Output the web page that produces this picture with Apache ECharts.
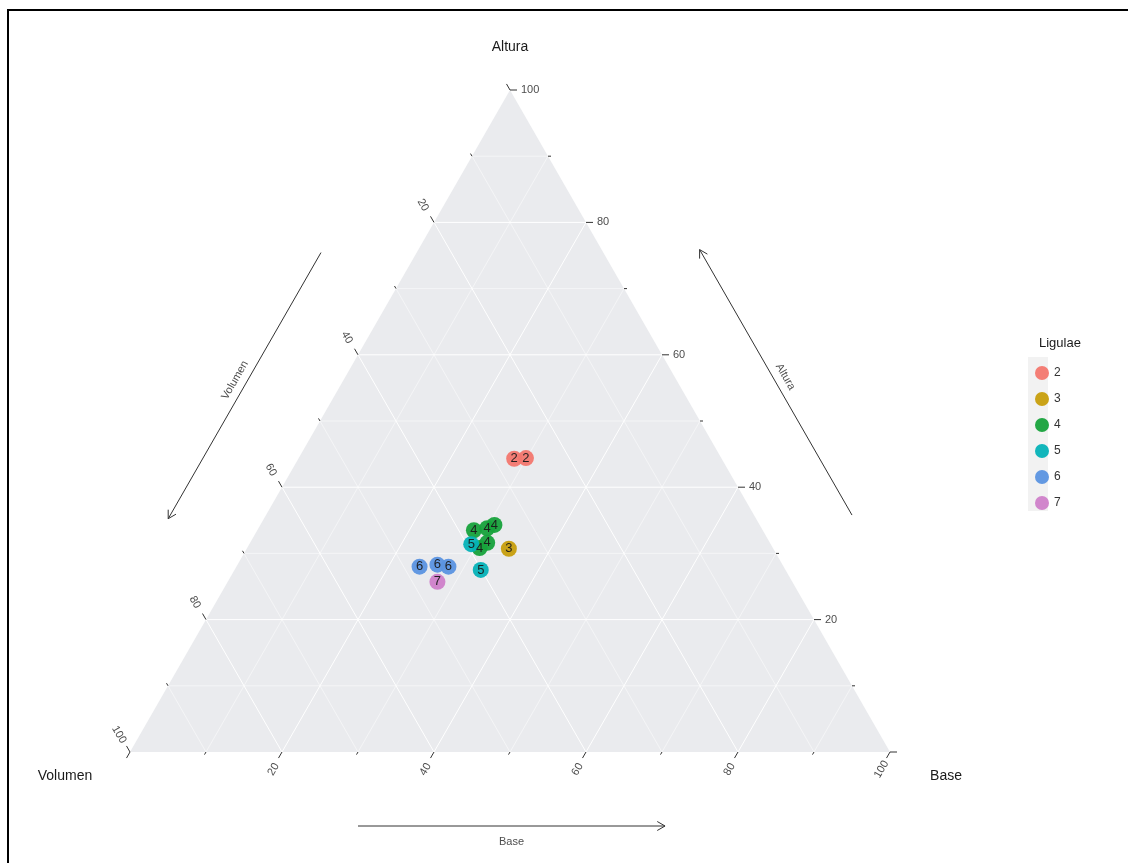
<!DOCTYPE html>
<html>
<head>
<meta charset="utf-8">
<script src="https://cdn.jsdelivr.net/npm/echarts@6/dist/echarts.min.js"></script>
<style>
html,body{margin:0;padding:0;background:#fff;}
#main{width:1128px;height:863px;}
</style>
</head>
<body>
<div id="main"></div>
<script>
// ---- data ----
const ligulae = [2, 2, 3, 4, 4, 4, 4, 4, 5, 5, 6, 6, 6, 7];
const altura  = [44.3, 44.4, 30.7, 33.5, 33.8, 34.3, 31.6, 30.8, 31.4, 27.5, 28.0, 28.3, 28.0, 25.7];
const base    = [28.4, 29.9, 34.5, 28.5, 30.1, 30.8, 31.2, 30.6, 29.2, 32.4, 24.1, 26.3, 27.9, 27.6];
const volumen = [27.3, 25.7, 34.8, 38.0, 36.1, 34.9, 37.2, 38.6, 39.4, 40.1, 47.9, 45.4, 44.1, 46.7];
const classes = [2, 3, 4, 5, 6, 7];
const classColors = ['#F3776E', '#C79E0C', '#17A23B', '#05B2B7', '#5B93E0', '#CF80C9'];
const tickSteps = [0, 10, 20, 30, 40, 50, 60, 70, 80, 90, 100];
const gridSteps = [10, 20, 30, 40, 50, 60, 70, 80, 90];
const tickLabels = [20, 40, 60, 80, 100];
const axisNames = { top: 'Altura', left: 'Volumen', right: 'Base' };
const legendTitle = 'Ligulae';

// ternary -> cartesian (x in 0..100, y = Altura 0..100)
function tern(a, b, v) {
  const s = a + b + v;
  const A = a / s * 100, B = b / s * 100;
  return [B + A / 2, A];
}

const FONT = '"Liberation Sans", Arial, sans-serif';

function renderFrame(params, api) {
  const P = (a, b) => api.coord([b + a / 2, a]);
  const ch = [];
  const T = P(100, 0), L = P(0, 0), R = P(0, 100);
  ch.push({ type: 'polygon', shape: { points: [T, L, R] }, style: { fill: '#EAEBEE' } });
  // grid lines
  gridSteps.forEach(t => {
    const major = t % 20 === 0;
    const st = { stroke: '#FFFFFF', lineWidth: major ? 1 : 0.5 };
    let p1 = P(t, 0), p2 = P(t, 100 - t);
    ch.push({ type: 'line', shape: { x1: p1[0], y1: p1[1], x2: p2[0], y2: p2[1] }, style: st });
    p1 = P(0, t); p2 = P(100 - t, t);
    ch.push({ type: 'line', shape: { x1: p1[0], y1: p1[1], x2: p2[0], y2: p2[1] }, style: st });
    p1 = P(0, 100 - t); p2 = P(100 - t, 0);
    ch.push({ type: 'line', shape: { x1: p1[0], y1: p1[1], x2: p2[0], y2: p2[1] }, style: st });
  });
  // ticks
  const s3 = Math.sqrt(3) / 2;
  const dirA = [1, 0], dirB = [-0.5, s3], dirV = [-0.5, -s3];
  tickSteps.forEach(t => {
    const len = t % 20 === 0 ? 7 : 3;
    const items = [[P(t, 100 - t), dirA], [P(0, t), dirB], [P(100 - t, 0), dirV]];
    items.forEach(([p, d]) => {
      ch.push({ type: 'line', shape: { x1: p[0], y1: p[1], x2: p[0] + d[0] * len, y2: p[1] + d[1] * len },
        style: { stroke: '#333333', lineWidth: 1 } });
    });
  });
  // tick labels
  tickLabels.forEach(t => {
    const lab = String(t);
    let p = P(t, 100 - t);
    ch.push({ type: 'text', x: p[0] + 11, y: p[1], style: { text: lab, fill: '#4D4D4D', font: '11px ' + FONT, align: 'left', verticalAlign: 'middle' } });
    p = P(0, t);
    ch.push({ type: 'text', x: p[0] + dirB[0] * 17, y: p[1] + dirB[1] * 20, rotation: Math.PI / 3,
      style: { text: lab, fill: '#4D4D4D', font: '11px ' + FONT, align: 'center', verticalAlign: 'middle' } });
    p = P(100 - t, 0);
    ch.push({ type: 'text', x: p[0] + dirV[0] * 22, y: p[1] + dirV[1] * 20, rotation: -Math.PI / 3,
      style: { text: lab, fill: '#4D4D4D', font: '11px ' + FONT, align: 'center', verticalAlign: 'middle' } });
  });
  // vertex labels
  const vt = (p, dx, dy, txt) => ch.push({ type: 'text', x: p[0] + dx, y: p[1] + dy,
    style: { text: txt, fill: '#1A1A1A', font: '14px ' + FONT, align: 'center', verticalAlign: 'middle' } });
  vt(T, 0, -43, axisNames.top);
  vt(L, -65, 24, axisNames.left);
  vt(R, 56, 24, axisNames.right);
  // arrows parallel to edges
  function arrow(A0, B0, off, f0, f1, txt, rot, toff) {
    const dx = B0[0] - A0[0], dy = B0[1] - A0[1];
    const len = Math.hypot(dx, dy);
    const u = [dx / len, dy / len], n = [-u[1], u[0]];
    const s = [A0[0] + dx * f0 + n[0] * off, A0[1] + dy * f0 + n[1] * off];
    const e = [A0[0] + dx * f1 + n[0] * off, A0[1] + dy * f1 + n[1] * off];
    const st = { stroke: '#333333', lineWidth: 1 };
    ch.push({ type: 'line', shape: { x1: s[0], y1: s[1], x2: e[0], y2: e[1] }, style: st });
    const ah = 9, ang = Math.PI / 6;
    [ang, -ang].forEach(g => {
      const c = Math.cos(g), sn = Math.sin(g);
      const bx = -u[0] * c + u[1] * sn, by = -u[0] * sn - u[1] * c;
      ch.push({ type: 'line', shape: { x1: e[0], y1: e[1], x2: e[0] + bx * ah, y2: e[1] + by * ah }, style: st });
    });
    const m = [(s[0] + e[0]) / 2 + n[0] * toff, (s[1] + e[1]) / 2 + n[1] * toff];
    ch.push({ type: 'text', x: m[0], y: m[1], rotation: rot,
      style: { text: txt, fill: '#4D4D4D', font: '11px ' + FONT, align: 'center', verticalAlign: 'middle' } });
  }
  arrow(T, L, 83, 0.308, 0.71, axisNames.left, Math.PI / 3, 11);
  arrow(R, T, 85, 0.294, 0.695, axisNames.top, -Math.PI / 3, 11);
  arrow(L, R, 74, 0.3, 0.704, axisNames.right, 0, 16);
  return { type: 'group', children: ch };
}

const scatterSeries = classes.map((c, ci) => {
  const pts = [];
  ligulae.forEach((g, i) => {
    if (g === c) {
      const xy = tern(altura[i], base[i], volumen[i]);
      pts.push([xy[0], xy[1], g]);
    }
  });
  return {
    name: String(c),
    type: 'scatter',
    symbol: 'circle',
    symbolSize: 16,
    z: 5,
    itemStyle: { color: classColors[ci], opacity: 0.95 },
    label: { show: true, position: 'inside', formatter: p => String(p.value[2]),
      color: '#1A1A1A', fontSize: 13, fontFamily: FONT },
    emphasis: { disabled: true },
    data: pts
  };
});

const chart = echarts.init(document.getElementById('main'), null, { renderer: 'canvas' });
chart.setOption({
  animation: false,
  backgroundColor: '#FFFFFF',
  grid: { left: 130, top: 90, width: 760, height: 662, containLabel: false },
  xAxis: { type: 'value', min: 0, max: 100, show: false },
  yAxis: { type: 'value', min: 0, max: 100, show: false },
  title: { text: legendTitle, left: 1034, top: 332, textStyle: { fontSize: 13, fontWeight: 'normal', color: '#1A1A1A', fontFamily: FONT } },
  legend: {
    orient: 'vertical', left: 1030, top: 361, icon: 'circle', itemWidth: 14, itemHeight: 14, itemGap: 12,
    textStyle: { fontSize: 12, color: '#333333', fontFamily: FONT },
    data: classes.map(String)
  },
  graphic: [
    { type: 'rect', shape: { x: 1028, y: 357, width: 20, height: 154 }, style: { fill: '#F2F2F2' }, z: -1, silent: true },
    { type: 'polyline', shape: { points: [[8, 863], [8, 10], [1128, 10]] }, style: { stroke: '#000000', lineWidth: 2, fill: null }, silent: true }
  ],
  series: [
    { type: 'custom', renderItem: renderFrame, data: [[0, 0]], z: 1, silent: true, clip: false,
      encode: { x: 0, y: 1 } }
  ].concat(scatterSeries)
});
</script>
</body>
</html>
